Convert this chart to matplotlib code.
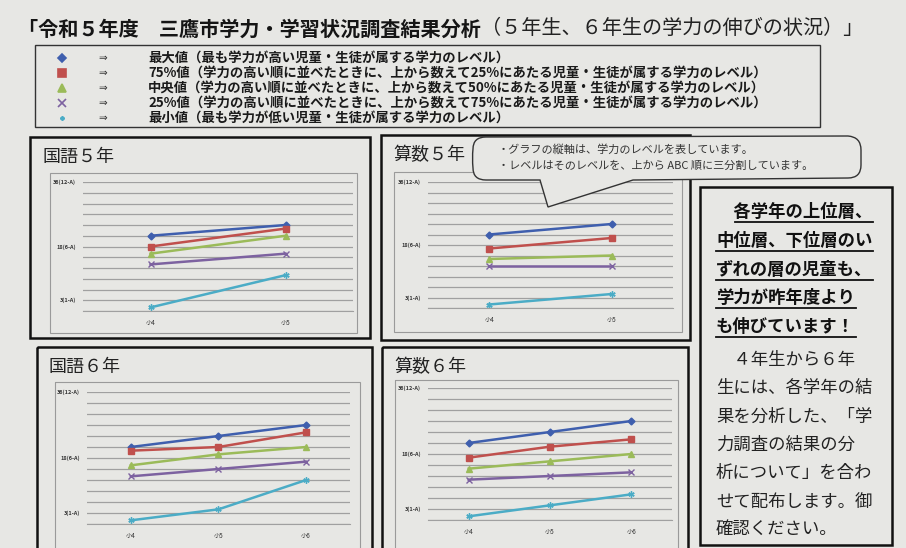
import matplotlib
matplotlib.use('Agg')
import matplotlib.pyplot as plt
from matplotlib.path import Path
from matplotlib.patches import PathPatch, Rectangle

plt.rcParams['font.family'] = ['Noto Sans CJK JP', 'DejaVu Sans']

W, H = 906, 548
BG = '#e7e7e4'

# データ（系列順：最大値, 75%値, 中央値, 25%値, 最小値）
series_names = ['最大値', '75%値', '中央値', '25%値', '最小値']
grades5 = ['小4', '小5']
grades6 = ['小4', '小5', '小6']
kokugo5 = [[21, 24], [18, 23], [16, 21], [13, 16], [1, 10]]
sansu5 = [[21, 24], [17, 20], [14, 15], [12, 12], [1, 4]]
kokugo6 = [[21, 24, 27], [20, 21, 25], [16, 19, 21], [13, 15, 17], [1, 4, 12]]
sansu6 = [[21, 24, 27], [17, 20, 22], [14, 16, 18], [11, 12, 13], [1, 4, 7]]
level_labels = {36: '36(12-A)', 18: '18(6-A)', 3: '3(1-A)'}

legend_texts = [
    '最大値（最も学力が高い児童・生徒が属する学力のレベル）',
    '75%値（学力の高い順に並べたときに、上から数えて25%にあたる児童・生徒が属する学力のレベル）',
    '中央値（学力の高い順に並べたときに、上から数えて50%にあたる児童・生徒が属する学力のレベル）',
    '25%値（学力の高い順に並べたときに、上から数えて75%にあたる児童・生徒が属する学力のレベル）',
    '最小値（最も学力が低い児童・生徒が属する学力のレベル）',
]
bold_lines = ['　各学年の上位層、', '中位層、下位層のい', 'ずれの層の児童も、',
              '学力が昨年度より', 'も伸びています！']
plain_lines = ['　４年生から６年', '生には、各学年の結', '果を分析した、「学',
               '力調査の結果の分', '析について」を合わ', 'せて配布します。御',
               '確認ください。']

colors = ['#3f5fae', '#c0504d', '#9bbb59', '#7d62a0', '#4bacc6']
markers = ['D', 's', '^', 'x', (6, 2, 0)]
msizes = [3.5, 4.5, 4.5, 4.5, 4.5]


def px(x0, y0, x1, y1):
    # ピクセル座標 -> figure座標
    return [x0 / W, 1 - y1 / H, (x1 - x0) / W, (y1 - y0) / H]


fig = plt.figure(figsize=(W / 100, H / 100), dpi=100, facecolor=BG)

bg = fig.add_axes([0, 0, 1, 1], zorder=0)
bg.set_xlim(0, W)
bg.set_ylim(H, 0)
bg.axis('off')
bg.set_facecolor(BG)

# タイトル
t1 = bg.text(18, 29, '「令和５年度　三鷹市学力・学習状況調査結果分析', fontsize=14.5,
             fontweight='bold', va='center', ha='left', color='#151515')

# 凡例の枠
bg.add_patch(Rectangle((35, 45), 785, 82, fill=False, ec='#333333', lw=1.0))
leg_y = [58, 73, 88, 103, 118]
for y, c, m, s, txt in zip(leg_y, colors, markers, msizes, legend_texts):
    bg.plot([62], [y], marker=m, color=c, ms=s + 1 if m != (6, 2, 0) else 3,
            mew=1.2, ls='none')
    bg.text(103, y, '⇒', fontsize=7.5, va='center', ha='center', color='#333333',
            family=['DejaVu Sans'])
    bg.text(148, y, txt, fontsize=9.6, fontweight='bold', va='center', ha='left',
            color='#1a1a1a')

# パネルの枠
panels = [
    ('国語５年', (30, 137, 370, 338), (50, 173, 357, 333), (83, 182, 353, 311), grades5, kokugo5),
    ('算数５年', (381, 135, 690, 340), (394, 172, 682, 332), (428, 182, 673, 308), grades5, sansu5),
    ('国語６年', (37, 347, 372, 552), (55, 382, 360, 552), (87, 392, 350, 524), grades6, kokugo6),
    ('算数６年', (382, 347, 688, 552), (395, 380, 678, 552), (428, 388, 672, 520), grades6, sansu6),
]

for title, box, frame, area, cats, vals in panels:
    bx0, by0, bx1, by1 = box
    bg.add_patch(Rectangle((bx0, by0), bx1 - bx0, by1 - by0, fill=False,
                           ec='#111111', lw=1.8))
    fx0, fy0, fx1, fy1 = frame
    bg.add_patch(Rectangle((fx0, fy0), fx1 - fx0, fy1 - fy0, fill=False,
                           ec='#9a9a9a', lw=0.8))
    bg.text(bx0 + 12, by0 + 20, title, fontsize=13, va='center', ha='left',
            color='#222222')

    ax = fig.add_axes(px(*area), zorder=1)
    ax.set_facecolor('none')
    xs = list(range(len(cats)))
    for row, c, m, s in zip(vals, colors, markers, msizes):
        ax.plot(xs, row, color=c, lw=1.8, marker=m, ms=s, mfc=c, mec=c, mew=1.0)
    ax.set_xlim(-0.5, len(cats) - 0.5)
    ax.set_ylim(0, 36)
    ticks = list(range(0, 37, 3))
    ax.set_yticks(ticks)
    ax.set_yticklabels([level_labels.get(v, '') for v in ticks], fontsize=4,
                       fontweight='bold', color='#333333')
    ax.set_xticks(xs)
    ax.set_xticklabels(cats, fontsize=4.5, color='#333333')
    ax.grid(axis='y', color='#a0a0a0', lw=0.9)
    ax.tick_params(length=0, pad=5)
    ax.tick_params(axis='x', pad=6)
    for side in ['top', 'right', 'left']:
        ax.spines[side].set_visible(False)
    ax.spines['bottom'].set_color('#a0a0a0')

# 右側の説明の枠
bg.add_patch(Rectangle((700, 187), 192, 358, fill=False, ec='#111111', lw=1.8))

fig.canvas.draw()
r = fig.canvas.get_renderer()

# タイトルの後半（細字）
e = t1.get_window_extent(r)
t2 = bg.text(0, 0, '（５年生、６年生の学力の伸びの状況）」', fontsize=14.5,
             va='center', ha='left', color='#222222')
t2.set_transform(matplotlib.transforms.IdentityTransform())
t2.set_position((e.x1, H - 29))

line_y = [212, 241, 270, 298, 327]
for y, txt in zip(line_y, bold_lines):
    t = bg.text(716, y, txt, fontsize=12.5, fontweight='bold', va='center',
                ha='left', color='#111111')
    fig.canvas.draw()
    ex = t.get_window_extent(r)
    x_start = 735 if txt.startswith('　') else 716
    bg.plot([x_start, ex.x1 + 1], [y + 10, y + 10], color='#111111', lw=1.3)

plain_y = [360, 388, 417, 445, 473, 502, 529]
for y, txt in zip(plain_y, plain_lines):
    bg.text(716, y, txt, fontsize=12.5, va='center', ha='left', color='#222222')

# 吹き出し
ov = fig.add_axes([0, 0, 1, 1], zorder=3)
ov.set_xlim(0, W)
ov.set_ylim(H, 0)
ov.axis('off')
ov.set_facecolor('none')
verts = [(486, 137), (848, 136), (861, 137), (861, 150), (861, 165),
         (861, 178), (848, 178), (633, 180), (548, 207), (540, 180),
         (486, 180), (473, 180), (473, 168), (472, 158), (473, 149),
         (473, 137), (486, 137), (486, 137)]
codes = [Path.MOVETO, Path.LINETO, Path.CURVE3, Path.CURVE3, Path.LINETO,
         Path.CURVE3, Path.CURVE3, Path.LINETO, Path.LINETO, Path.LINETO,
         Path.LINETO, Path.CURVE3, Path.CURVE3, Path.CURVE3, Path.CURVE3,
         Path.CURVE3, Path.CURVE3, Path.CLOSEPOLY]
ov.add_patch(PathPatch(Path(verts, codes), fc=BG, ec='#333333', lw=1.0))
ov.text(498, 149, '・グラフの縦軸は、学力のレベルを表しています。', fontsize=8,
        va='center', ha='left', color='#333333')
ov.text(498, 166, '・レベルはそのレベルを、上から ABC 順に三分割しています。', fontsize=8,
        va='center', ha='left', color='#333333')

fig.savefig('out.png', dpi=100, facecolor=BG)
